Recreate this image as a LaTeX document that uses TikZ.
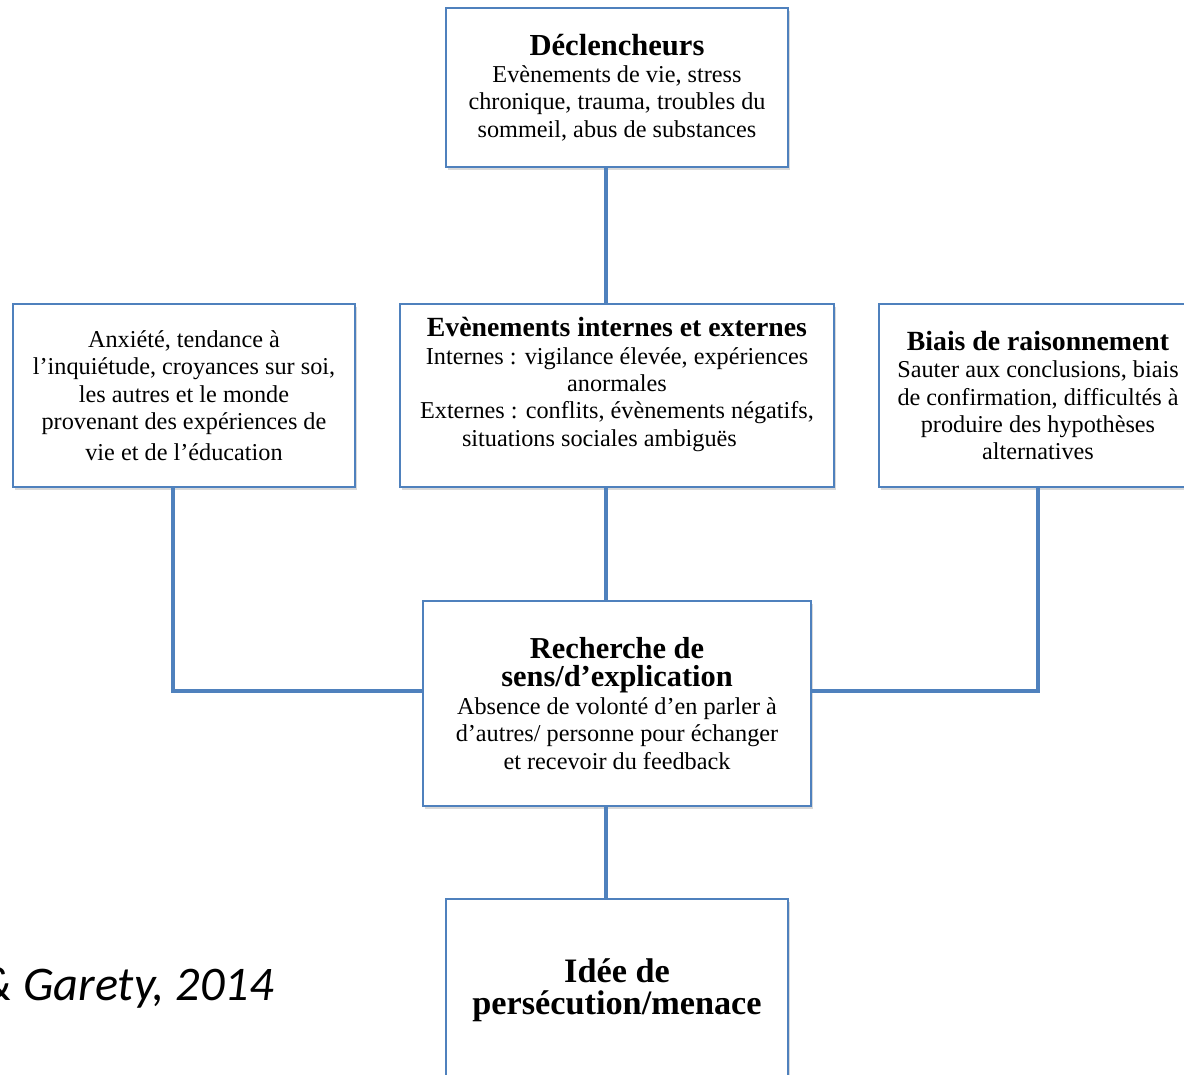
\documentclass[tikz,border=0pt]{standalone}
\usepackage{fontspec}
\setmainfont{Liberation Serif}
\newfontfamily\citefont{Carlito}
\usepackage{xcolor}
\usetikzlibrary{positioning,calc,shadows}

\definecolor{boxblue}{RGB}{79,129,189}

\begin{document}
\begin{tikzpicture}[
  x=0.02cm, y=-0.02cm,
  card/.style={
    draw=boxblue, line width=1.1pt, fill=white, align=center,
    inner sep=2pt, font=\fontsize{13.8}{15.6}\selectfont,
    drop shadow={shadow xshift=1pt, shadow yshift=-1.5pt, opacity=0.25, fill=black!60}
  },
  link/.style={draw=boxblue, line width=2.8pt}
]

\useasboundingbox (0,0) rectangle (1184,1075);

% Triggers
\node[card, minimum width=6.84cm, minimum height=3.18cm] (decl) at (617,87.5) {
  {\fontsize{17.4}{19}\selectfont\bfseries Déclencheurs}\\
  Evènements de vie, stress\\
  chronique, trauma, troubles du\\
  sommeil, abus de substances
};

% Anxiety
\node[card, minimum width=6.84cm, minimum height=3.66cm] (anx) at (184,395.5) {
  Anxiété, tendance à\\
  l’inquiétude, croyances sur soi,\\
  les autres et le monde\\
  provenant des expériences de\\[2pt]
  vie et de l’éducation
};

% Internal / external events
\node[card, minimum width=8.68cm, minimum height=3.66cm] (evt) at (617,395.5) {
  {\fontsize{15.8}{17}\selectfont\bfseries Evènements internes et externes}\\
  Internes : vigilance élevée, expériences\\
  anormales\\
  Externes : conflits, évènements négatifs,\\
  situations sociales ambiguës\mbox{\hspace{20pt}}\\
  \mbox{}
};

% Reasoning biases
\node[card, minimum width=6.36cm, minimum height=3.66cm] (biais) at (1038,395.5) {
  {\fontsize{15.8}{17}\selectfont\bfseries Biais de raisonnement}\\
  Sauter aux conclusions, biais\\
  de confirmation, difficultés à\\
  produire des hypothèses\\
  alternatives
};

% Search for meaning
\node[card, minimum width=7.76cm, minimum height=4.10cm] (rech) at (617,703.5) {
  {\fontsize{17.3}{19}\selectfont\bfseries Recherche de}\\[0.5pt]
  {\fontsize{17.3}{19}\selectfont\bfseries sens/d’explication}\\
  Absence de volonté d’en parler à\\
  d’autres/ personne pour échanger\\
  et recevoir du feedback
};

% Persecutory idea
\node[card, minimum width=6.84cm, minimum height=3.64cm,
  font=\fontsize{19.5}{18.2}\selectfont\bfseries] (idee) at (617,990) {
  Idée de\\
  persécution/menace
};

% Connectors
\draw[link] ([xshift=-2.2mm]decl.south) -- ([xshift=-2.2mm]evt.north);
\draw[link] ([xshift=-2.2mm]evt.south) -- ([xshift=-2.2mm]rech.north);
\draw[link] ([xshift=-2.2mm]anx.south) |- ([yshift=2.5mm]rech.west);
\draw[link] (biais.south) |- ([yshift=2.5mm]rech.east);
\draw[link] ([xshift=-2.2mm]rech.south) -- ([xshift=-2.2mm]idee.north);

% Source
\node[anchor=base east, font=\citefont\fontsize{27.5}{32}\selectfont\itshape] (src) at (280,1000) {\& Garety, 2014};

\end{tikzpicture}
\end{document}
